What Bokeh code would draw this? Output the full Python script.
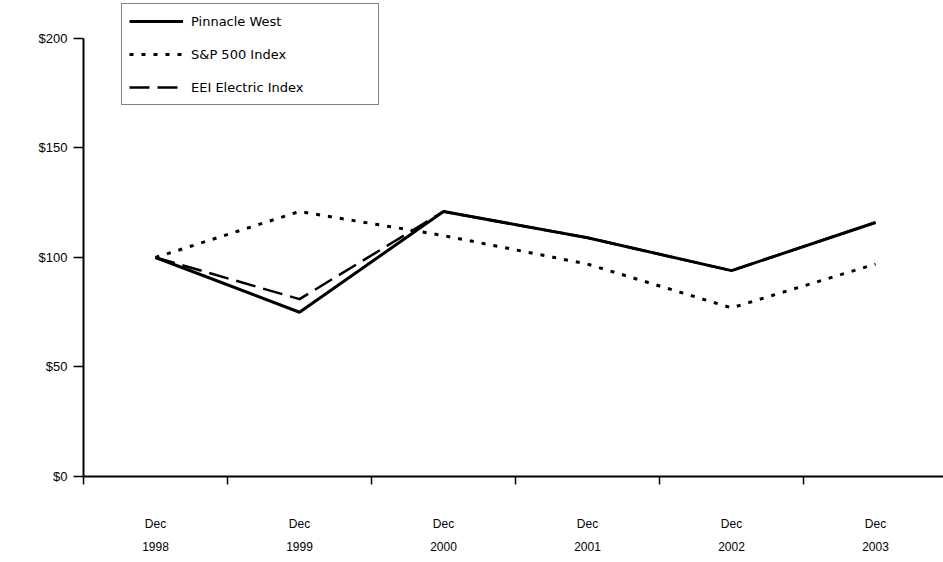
from bokeh.plotting import figure
from bokeh.models import Range1d, FixedTicker, Legend, LegendItem, LinearAxis
from bokeh.embed import file_html
from bokeh.resources import INLINE

years = ["1998", "1999", "2000", "2001", "2002", "2003"]
pinnacle = [100, 75, 121, 109, 94, 116]
sp500 = [100, 121, 110, 97, 77, 97]
eei = [100, 81, 121, 109, 94, 116]
y_ticks = [0, 50, 100, 150, 200]

FONT = "Liberation Sans"

p = figure(width=943, height=562, output_backend="svg", toolbar_location=None,
           x_range=Range1d(0, 5.972), y_range=Range1d(0, 217.35),
           min_border_left=83, min_border_top=0, min_border_bottom=86, min_border_right=0)
p.outline_line_color = None
p.grid.visible = False
p.background_fill_color = "white"
p.border_fill_color = "white"

xs = [i + 0.5 for i in range(len(years))]
r1 = p.line(xs, pinnacle, line_color="black", line_width=3)
r2 = p.line(xs, sp500, line_color="black", line_width=3, line_dash="4 8")
r3 = p.line(xs, eei, line_color="black", line_width=2.5, line_dash="20 8")

# x axis (tick marks + "Dec")
xa = p.xaxis[0]
xa.ticker = FixedTicker(ticks=xs, minor_ticks=list(range(len(years))))
xa.major_label_overrides = {x: "Dec" for x in xs}
xa.major_tick_out = 0
xa.major_tick_in = 0
xa.minor_tick_out = 8
xa.minor_tick_in = 0
xa.minor_tick_line_color = "black"
xa.minor_tick_line_width = 1.5
xa.axis_line_width = 2
xa.axis_line_color = "black"
xa.major_label_standoff = 32
xa.major_label_text_font = FONT
xa.major_label_text_font_size = "12px"
xa.major_label_text_color = "black"

# second x axis for years
xa2 = LinearAxis(ticker=FixedTicker(ticks=xs))
xa2.major_label_overrides = {x: y for x, y in zip(xs, years)}
xa2.major_tick_out = 0
xa2.major_tick_in = 0
xa2.minor_tick_out = 0
xa2.minor_tick_in = 0
xa2.axis_line_color = None
xa2.major_label_standoff = 8
xa2.major_label_text_font = FONT
xa2.major_label_text_font_size = "12px"
xa2.major_label_text_color = "black"
p.add_layout(xa2, "below")

# y axis
ya = p.yaxis[0]
ya.ticker = FixedTicker(ticks=y_ticks)
ya.bounds = (0, 200)
ya.major_label_overrides = {v: "$" + str(v) for v in y_ticks}
ya.major_tick_out = 10
ya.major_tick_in = 0
ya.minor_tick_out = 0
ya.minor_tick_in = 0
ya.axis_line_width = 2
ya.axis_line_color = "black"
ya.major_tick_line_width = 1.5
ya.major_label_standoff = 6
ya.major_label_text_font = FONT
ya.major_label_text_font_size = "13px"
ya.major_label_text_color = "black"

legend = Legend(items=[LegendItem(label="Pinnacle West", renderers=[r1]),
                       LegendItem(label="S&P 500 Index", renderers=[r2]),
                       LegendItem(label="EEI Electric Index", renderers=[r3])],
                location=(38, 371))
legend.border_line_color = "black"
legend.border_line_width = 1.5
legend.background_fill_color = "white"
legend.background_fill_alpha = 1
legend.label_text_font = "DejaVu Sans"
legend.label_text_font_size = "13px"
legend.label_text_color = "black"
legend.glyph_width = 54
legend.glyph_height = 20
legend.label_height = 20
legend.label_width = 180
legend.spacing = 13
legend.padding = 7
legend.margin = 0
legend.label_standoff = 8
p.add_layout(legend, "center")

open("out.html", "w").write(file_html(p, INLINE))
